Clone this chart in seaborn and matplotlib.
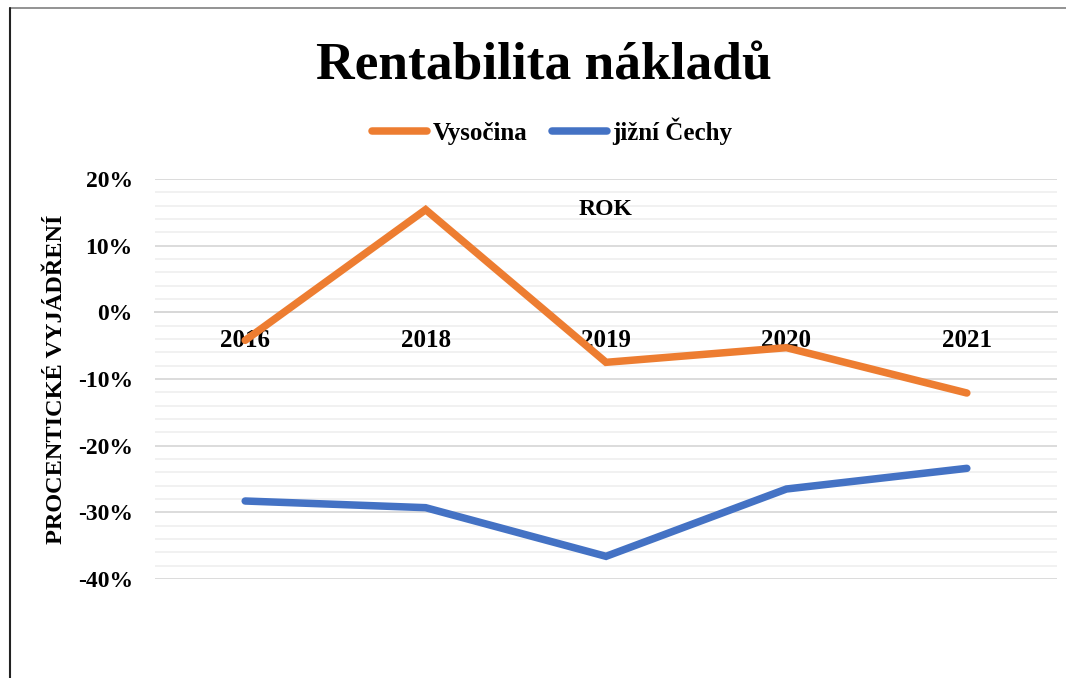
import matplotlib
matplotlib.use('Agg')
import matplotlib.pyplot as plt
import matplotlib.ticker as mticker
from matplotlib.lines import Line2D
import numpy as np
import pandas as pd
import seaborn as sns

roky = ['2016', '2018', '2019', '2020', '2021']
vysocina = [-4.2, 15.4, -7.5, -5.3, -12.1]
jizni_cechy = [-28.3, -29.3, -36.6, -26.5, -23.4]
serie = ['Vysočina', 'jižní Čechy']
barvy = ['#ED7D31', '#4472C4']

data = pd.DataFrame({
    'Rok': roky * 2,
    'Hodnota': vysocina + jizni_cechy,
    'Kraj': [serie[0]] * len(roky) + [serie[1]] * len(roky),
})

sns.set_theme(style='white')
plt.rcParams['font.family'] = ['Liberation Serif', 'DejaVu Serif']
plt.rcParams['font.weight'] = 'bold'
plt.rcParams['text.color'] = 'black'
plt.rcParams['axes.labelcolor'] = 'black'
plt.rcParams['xtick.color'] = 'black'
plt.rcParams['ytick.color'] = 'black'

fig = plt.figure(figsize=(10.66, 6.78), dpi=100)
ax = fig.add_axes([0.1454, 0.146, 0.8462, 0.590])

sns.lineplot(data=data, x='Rok', y='Hodnota', hue='Kraj', palette=barvy,
             linewidth=5.4, ax=ax, legend=False, sort=False,
             solid_capstyle='round', solid_joinstyle='miter')

ax.set_ylim(-40, 20)
ax.set_xlim(-0.5, len(roky) - 0.5)
ax.yaxis.set_major_locator(mticker.MultipleLocator(10))
ax.yaxis.set_minor_locator(mticker.MultipleLocator(2))
ax.yaxis.set_major_formatter(mticker.FuncFormatter(lambda v, p: f'{v:.0f}%'))
ax.grid(axis='y', which='minor', color='#F0F0F0', linewidth=1.3)
ax.grid(axis='y', which='major', color='#D9D9D9', linewidth=1.3)
ax.set_axisbelow(True)
ax.xaxis.set_zorder(0.6)  # popisky roku nad mřížkou
ax.tick_params(axis='y', which='both', length=0, pad=16, labelsize=17)

for s in ['top', 'right', 'left']:
    ax.spines[s].set_visible(False)
ax.spines['bottom'].set_position(('data', 0))
ax.spines['bottom'].set_color('#D0D0D0')
ax.spines['bottom'].set_linewidth(1.3)
ax.spines['bottom'].set_zorder(0.5)
ax.set_xticks(range(len(roky)))
ax.set_xticklabels(roky)
ax.xaxis.set_minor_locator(mticker.FixedLocator(np.arange(-0.5, len(roky), 1)))
ax.tick_params(axis='x', which='major', length=0, pad=12, labelsize=18)
ax.tick_params(axis='x', which='minor', length=6, width=1.3, color='#C8C8C8', direction='out')

ax.set_xlabel('ROK', fontsize=17, fontweight='bold')
ax.xaxis.set_label_coords(0.5, 0.95)
ax.set_ylabel('PROCENTICKÉ VYJÁDŘENÍ', fontsize=17.5, fontweight='bold')
ax.yaxis.set_label_coords(-0.097, 0.5)

fig.suptitle('Rentabilita nákladů', fontsize=38.5, fontweight='bold', x=0.51, y=0.937)

handles = [Line2D([0], [0], color=c, linewidth=5.4, solid_capstyle='round') for c in barvy]
fig.legend(handles, serie, loc='center', bbox_to_anchor=(0.518, 0.807), ncol=2,
           frameon=False, handlelength=2.2, handletextpad=0.2,
           columnspacing=1.0, prop={'weight': 'bold', 'size': 18})

# okraj
fig.add_artist(Line2D([0.009, 1.0], [0.988, 0.988], color='#808080', linewidth=1.2))
fig.add_artist(Line2D([0.009, 0.009], [0.0, 0.988], color='#222222', linewidth=1.5))

fig.savefig('out.png', dpi=100)
